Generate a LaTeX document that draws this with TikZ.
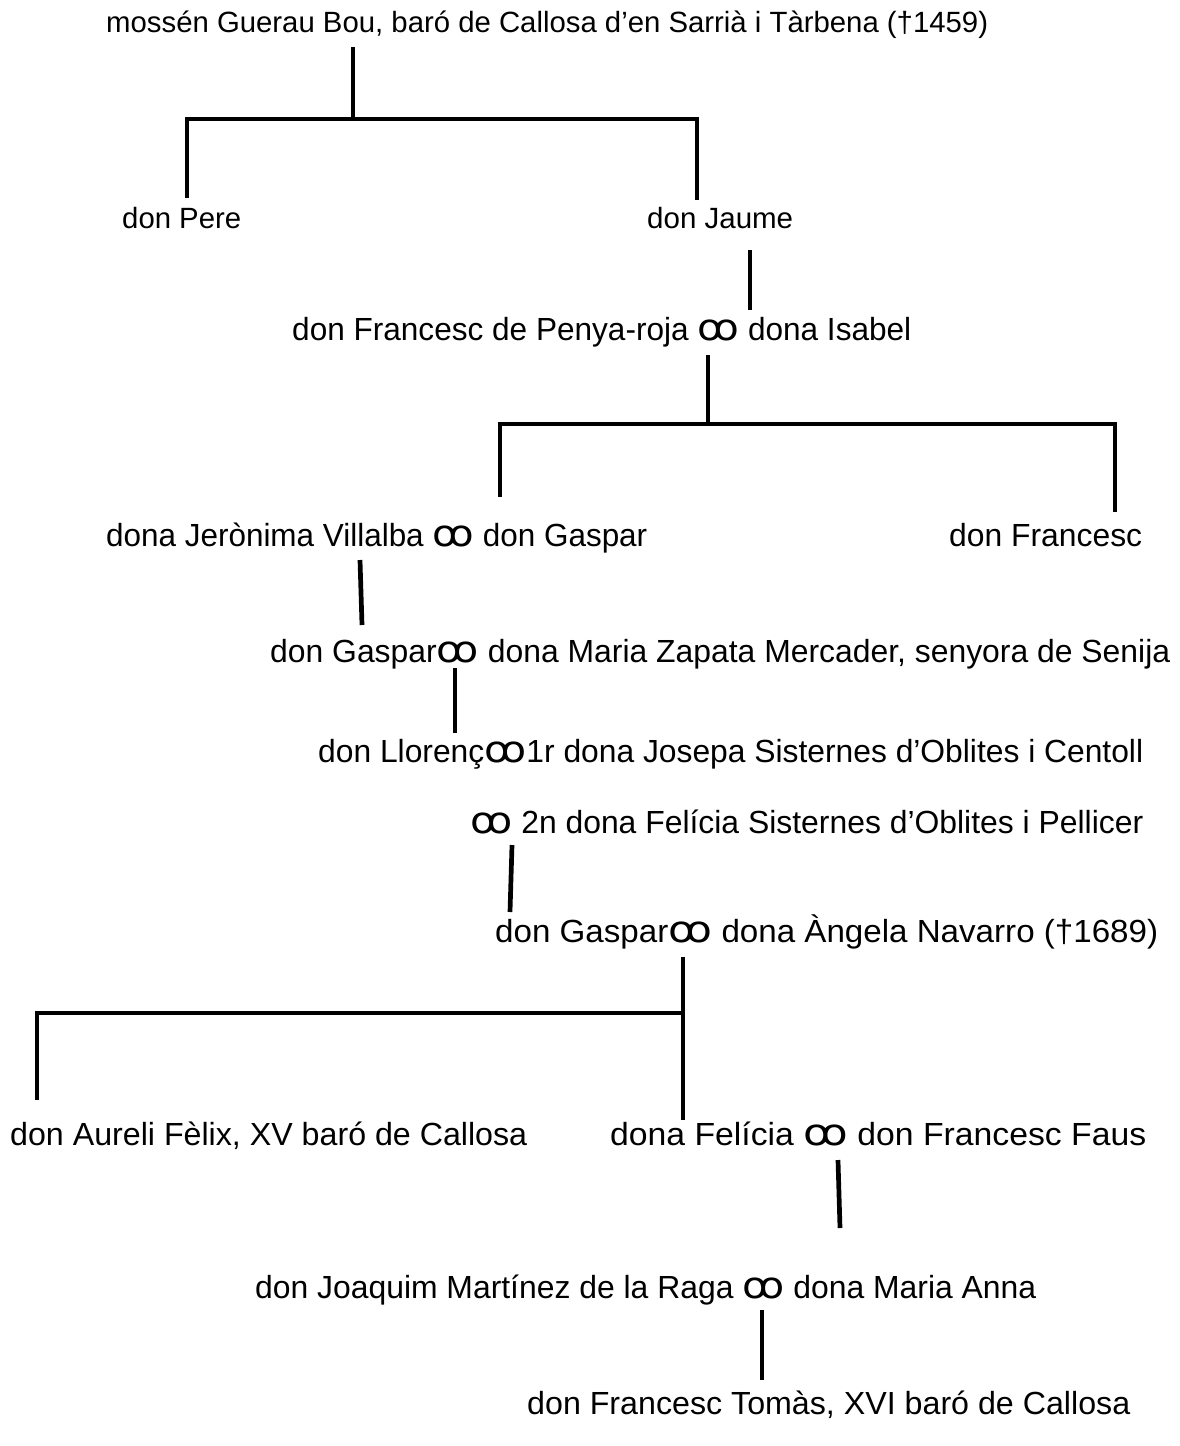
\documentclass[tikz,border=0pt]{standalone}
\usepackage{fontspec}
\usepackage{graphicx}
\setmainfont{Liberation Sans}
\newfontfamily\oofont{DejaVu Sans}
\newcommand{\mar}{{\oofont\scalebox{1.3}[1.15]{ꝏ}}}
\newcommand{\fitw}[2]{\resizebox{#1pt}{\height}{#2}}
\begin{document}
\begin{tikzpicture}[x=1pt,y=-1pt,
  person/.style={anchor=west,inner sep=0pt,font=\fontsize{32}{38}\selectfont,text height=24pt,text depth=8pt},
  small/.style={font=\fontsize{29.3}{34}\selectfont},
  link/.style={line width=4.7pt,line cap=butt,line join=miter}]
\useasboundingbox[fill=white] (0,0) rectangle (1179,1446);
\node[person,small] (guerau) at (106,24) {\fitw{882}{mossén Guerau Bou, baró de Callosa d’en Sarrià i Tàrbena (†1459)}};
\node[person,small] (pere) at (122,220) {\fitw{119}{don Pere}};
\node[person,small] (jaume) at (647,220) {\fitw{146}{don Jaume}};
\node[person] (franc) at (292,332) {\fitw{619}{don Francesc de Penya-roja \mar{} dona Isabel}};
\node[person] (jeron) at (106,538) {\fitw{541}{dona Jerònima Villalba \mar{} don Gaspar}};
\node[person] (franc2) at (949,538) {\fitw{193}{don Francesc}};
\node[person] (gaspar2) at (270,654) {\fitw{900}{don Gaspar\mar{} dona Maria Zapata Mercader, senyora de Senija}};
\node[person] (llorenc) at (318,754) {\fitw{825}{don Llorenç\mar{}1r dona Josepa Sisternes d’Oblites i Centoll}};
\node[person] (felicia1) at (470,825) {\fitw{673}{\mar{} 2n dona Felícia Sisternes d’Oblites i Pellicer}};
\node[person] (gaspar3) at (495,934) {\fitw{663}{don Gaspar\mar{} dona Àngela Navarro (†1689)}};
\node[person] (aureli) at (10,1137) {\fitw{517}{don Aureli Fèlix, XV baró de Callosa}};
\node[person] (felicia2) at (610,1137) {\fitw{536}{dona Felícia \mar{} don Francesc Faus}};
\node[person] (joaquim) at (255,1290) {\fitw{781}{don Joaquim Martínez de la Raga \mar{} dona Maria Anna}};
\node[person] (tomas) at (527,1406) {\fitw{603}{don Francesc Tomàs, XVI baró de Callosa}};
% junction and end coordinates
\coordinate (a1) at (353,47); \coordinate (a2) at (353,119);
\coordinate (b1) at (187,198); \coordinate (b2) at (187,119);
\coordinate (b3) at (697,119); \coordinate (b4) at (697,200);
\coordinate (c1) at (750,250); \coordinate (c2) at (750,310);
\coordinate (d1) at (708,355); \coordinate (d2) at (708,424);
\coordinate (e1) at (500,497); \coordinate (e2) at (500,424);
\coordinate (e3) at (1115,424); \coordinate (e4) at (1115,512);
\coordinate (f1) at (360,560); \coordinate (f2) at (362,625);
\coordinate (g1) at (455,668); \coordinate (g2) at (455,733);
\coordinate (h1) at (512,845); \coordinate (h2) at (510,912);
\coordinate (i1) at (683,957); \coordinate (i2) at (683,1120);
\coordinate (j1) at (37,1100); \coordinate (j2) at (37,1013); \coordinate (j3) at (683,1013);
\coordinate (k1) at (838,1160); \coordinate (k2) at (840,1228);
\coordinate (l1) at (762,1310); \coordinate (l2) at (762,1380);
\draw[link] (a1) -- (a2);
\draw[link] (b1) -- (b2) -- (b3) -- (b4);
\draw[link] (c1) -- (c2);
\draw[link] (d1) -- (d2);
\draw[link] (e1) -- (e2) -- (e3) -- (e4);
\draw[link] (f1) -- (f2);
\draw[link] (g1) -- (g2);
\draw[link] (h1) -- (h2);
\draw[link] (i1) -- (i2);
\draw[link] (j1) -- (j2) -- (j3);
\draw[link] (k1) -- (k2);
\draw[link] (l1) -- (l2);
\end{tikzpicture}
\end{document}
